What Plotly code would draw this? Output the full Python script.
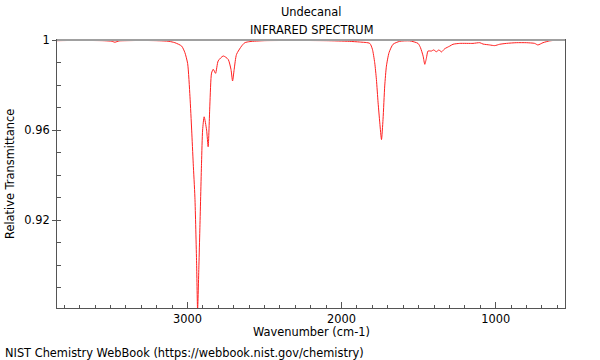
import plotly.graph_objects as go

# Spectrum (wavenumber cm-1, relative transmittance)
wavenumber = [3847, 3750, 3650, 3550, 3500, 3485, 3471, 3458, 3440, 3400, 3300, 3200,
              3120, 3082, 3038, 3017, 2999, 2984, 2973, 2963, 2952, 2941, 2934.5,
              2926, 2920, 2909, 2902, 2892, 2876, 2866, 2855, 2844, 2833, 2818, 2801,
              2768, 2736, 2718, 2707.5, 2697, 2682, 2649, 2628, 2595, 2500, 2300, 2100,
              1950, 1882, 1817, 1800, 1785, 1774, 1763, 1752, 1741, 1731, 1720, 1709,
              1692, 1666, 1623, 1558, 1504, 1488, 1471, 1460, 1449, 1439, 1417, 1402,
              1385, 1368, 1352, 1331, 1298, 1277, 1233, 1147, 1103, 1082, 1039, 1006,
              974, 930, 866, 801, 747, 726, 693, 650, 606, 563, 553]
transmittance = [0.9997, 0.9998, 0.9998, 0.9997, 0.9995, 0.9993, 0.9990, 0.9993, 0.9996, 0.9997, 0.9998, 0.9997,
                 0.9994, 0.9988, 0.9973, 0.9944, 0.9895, 0.9748, 0.9600, 0.9453, 0.9302, 0.9009, 0.8800,
                 0.9000, 0.9156, 0.9453, 0.9600, 0.9659, 0.9600, 0.9526, 0.9711, 0.9853, 0.9870, 0.9852, 0.9907,
                 0.9929, 0.9914, 0.9870, 0.9818, 0.9870, 0.9936, 0.9973, 0.9988, 0.9993, 0.9997, 0.9998, 0.9997,
                 0.9994, 0.9991, 0.9985, 0.9959, 0.9899, 0.9825, 0.9721, 0.9632, 0.9558, 0.9648, 0.9796, 0.9884,
                 0.9944, 0.9981, 0.9994, 0.9996, 0.9985, 0.9966, 0.9929, 0.9892, 0.9921, 0.9951, 0.9951, 0.9956,
                 0.9948, 0.9956, 0.9947, 0.9961, 0.9973, 0.9981, 0.9985, 0.9985, 0.9988, 0.9982, 0.9978, 0.9975,
                 0.9981, 0.9985, 0.9988, 0.9988, 0.9985, 0.9978, 0.9988, 0.9996, 0.9999, 0.9999, 0.9998]
x_tick_vals = [3000, 2000, 1000]
x_tick_text = ["3000", "2000", "1000"]
y_tick_vals = [0.92, 0.96, 1.0]
y_tick_text = ["0.92", "0.96", "1"]

FONT = "DejaVu Sans"
FS = 11.4

fig = go.Figure()
fig.add_trace(go.Scatter(x=wavenumber, y=transmittance, mode="lines",
                         line=dict(color="#ff2020", width=1, shape="spline", smoothing=0.6),
                         hoverinfo="skip", showlegend=False))

fig.update_layout(
    width=600, height=360,
    margin=dict(l=57, r=35, t=40, b=52),
    paper_bgcolor="white", plot_bgcolor="white",
    font=dict(family=FONT, size=FS, color="#000"),
    showlegend=False,
)
fig.update_xaxes(range=[3847, 550], showgrid=False, zeroline=False,
                 showline=True, linecolor="#555", linewidth=1, mirror=True,
                 tickmode="array", tickvals=x_tick_vals, ticktext=x_tick_text,
                 ticks="inside", ticklen=6, tickcolor="#555", tickwidth=1,
                 minor=dict(dtick=100, ticks="inside", ticklen=3, tickcolor="#555", showgrid=False),
                 tickfont=dict(family=FONT, size=FS, color="#000"))
fig.update_yaxes(range=[0.881, 1.0], showgrid=False, zeroline=False,
                 showline=True, linecolor="#555", linewidth=1, mirror=True,
                 tickmode="array", tickvals=y_tick_vals, ticktext=y_tick_text,
                 ticks="outside", ticklen=4, tickcolor="#555", tickwidth=1,
                 minor=dict(dtick=0.01, tick0=0.88, ticks="inside", ticklen=4, tickcolor="#555", showgrid=False),
                 tickfont=dict(family=FONT, size=FS, color="#000"))

# top frame line in light gray
fig.add_shape(type="line", xref="paper", yref="paper", x0=0, x1=1, y0=1, y1=1,
              line=dict(color="#a0a0a0", width=2))

ann = [
    dict(text="Undecanal", x=0.5, y=1.1045),
    dict(text="INFRARED SPECTRUM", x=0.5, y=1.0373),
    dict(text="Wavenumber (cm-1)", x=0.5, y=-0.0896),
]
for a in ann:
    fig.add_annotation(xref="paper", yref="paper", showarrow=False, xanchor="center",
                       yanchor="middle", font=dict(family=FONT, size=FS, color="#000"), **a)
fig.add_annotation(text="Relative Transmittance", xref="paper", yref="paper", x=-0.0925, y=0.5,
                   textangle=-90, showarrow=False, xanchor="center", yanchor="middle",
                   font=dict(family=FONT, size=FS, color="#000"))
fig.add_annotation(text="NIST Chemistry WebBook (https://webbook.nist.gov/chemistry)",
                   xref="paper", yref="paper", x=-0.1063, y=-0.1679, showarrow=False,
                   xanchor="left", yanchor="middle", font=dict(family=FONT, size=FS, color="#000"))

fig.write_html("out.html", config={"displayModeBar": False},
               post_script="document.body.style.margin='0';document.body.style.overflow='hidden';")
